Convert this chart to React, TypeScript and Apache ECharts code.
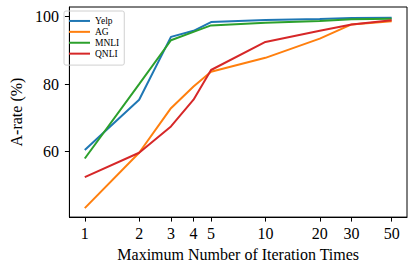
import React, { useEffect, useRef } from "react";
import * as echarts from "echarts";

const iterations = [1, 2, 3, 4, 5, 10, 20, 30, 50];
const xTicks = [1, 2, 3, 4, 5, 10, 20, 30, 50];
const yTicks = [60, 80, 100];
const yelp = [60.5, 75.4, 94.0, 95.8, 98.4, 99.0, 99.3, 99.6, 99.7];
const ag = [43.3, 59.7, 72.9, 79.3, 83.7, 87.8, 93.5, 97.7, 98.6];
const mnli = [58.0, 80.0, 93.0, 95.5, 97.4, 98.2, 98.7, 99.2, 99.4];
const qnli = [52.5, 59.7, 67.5, 75.4, 84.2, 92.5, 95.8, 97.7, 98.9];
const seriesNames = ["Yelp", "AG", "MNLI", "QNLI"];
const seriesColors = ["#1f77b4", "#ff7f0e", "#2ca02c", "#d62728"];

const FONT = "'Liberation Serif', 'DejaVu Serif', serif";

export default function App() {
  const ref = useRef<HTMLDivElement>(null);
  useEffect(() => {
    if (!ref.current) return;
    const chart = echarts.init(ref.current, undefined, { renderer: "svg" });
    const all = [yelp, ag, mnli, qnli];
    chart.setOption({
      animation: false,
      textStyle: { fontFamily: FONT },
      grid: {
        left: 62,
        right: 8,
        top: 7,
        bottom: 49,
        show: true,
        borderColor: "#000",
        borderWidth: 1,
        backgroundColor: "transparent",
      },
      legend: {
        orient: "vertical",
        left: 64,
        top: 11,
        icon: "rect",
        itemWidth: 21,
        itemHeight: 2,
        itemGap: 0,
        padding: [4.5, 5, 6, 5],
        borderColor: "#d0d0d0",
        borderWidth: 1,
        borderRadius: 2,
        textStyle: { fontFamily: FONT, fontSize: 9.5, color: "#000", lineHeight: 10.9 },
        data: seriesNames,
      },
      xAxis: {
        type: "log",
        min: 0.822,
        max: 60.8,
        name: "Maximum Number of Iteration Times",
        nameLocation: "middle",
        nameGap: 28,
        nameTextStyle: { fontFamily: FONT, fontSize: 16, color: "#000" },
        axisLine: { show: true, lineStyle: { color: "#000", width: 1 } },
        axisTick: { show: true, length: 4.5, lineStyle: { color: "#000" }, customValues: xTicks },
        axisLabel: {
          fontFamily: FONT,
          fontSize: 16,
          color: "#000",
          margin: 8,
          customValues: xTicks,
          formatter: (v: number) => String(Math.round(v)),
        },
        splitLine: { show: false },
        minorTick: { show: false },
      },
      yAxis: {
        type: "value",
        min: 40.65,
        max: 102.85,
        name: "A-rate (%)",
        nameLocation: "middle",
        nameGap: 39,
        nameTextStyle: { fontFamily: FONT, fontSize: 16, color: "#000" },
        axisLine: { show: true, lineStyle: { color: "#000", width: 1 } },
        axisTick: { show: true, length: 4.5, lineStyle: { color: "#000" }, customValues: yTicks },
        axisLabel: {
          fontFamily: FONT,
          fontSize: 16,
          color: "#000",
          margin: 10.5,
          customValues: yTicks,
        },
        splitLine: { show: false },
      },
      series: seriesNames.map((name, i) => ({
        name,
        type: "line",
        showSymbol: false,
        symbol: "none",
        color: seriesColors[i],
        lineStyle: { width: 2, color: seriesColors[i] },
        data: iterations.map((x, j) => [x, all[i][j]]),
      })),
    });
    return () => chart.dispose();
  }, []);
  return (
    <div
      ref={ref}
      style={{ position: "fixed", left: 0, top: 0, width: 415, height: 267, background: "#fff" }}
    />
  );
}
